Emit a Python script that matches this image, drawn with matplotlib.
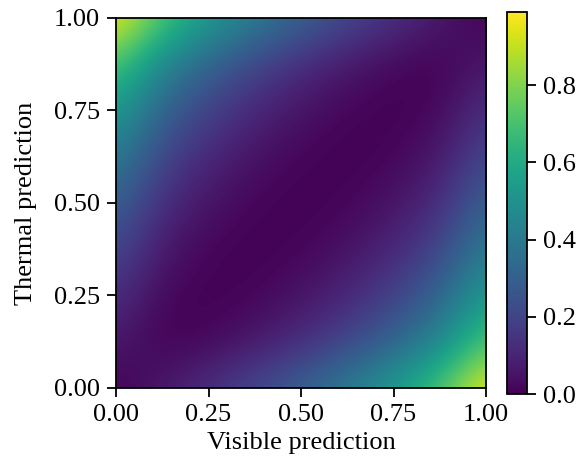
import matplotlib
matplotlib.use("Agg")
import matplotlib.pyplot as plt
import numpy as np

# prediction grid (both axes) and the divergence
pred = [0.0, 0.125, 0.25, 0.375, 0.5, 0.625, 0.75, 0.875, 1.0]
# rows: thermal prediction (bottom -> top), cols: visible prediction (left -> right)
row0 = [0.0, 0.066, 0.138, 0.219, 0.311, 0.419, 0.549, 0.717, 0.99]
row1 = [0.066, 0.0, 0.019, 0.062, 0.124, 0.205, 0.311, 0.456, 0.717]
row2 = [0.138, 0.019, 0.0, 0.013, 0.049, 0.106, 0.189, 0.311, 0.549]
row3 = [0.219, 0.062, 0.013, 0.0, 0.012, 0.046, 0.106, 0.205, 0.419]
row4 = [0.311, 0.124, 0.049, 0.012, 0.0, 0.012, 0.049, 0.124, 0.311]
row5 = [0.419, 0.205, 0.106, 0.046, 0.012, 0.0, 0.013, 0.062, 0.219]
row6 = [0.549, 0.311, 0.189, 0.106, 0.049, 0.013, 0.0, 0.019, 0.138]
row7 = [0.717, 0.456, 0.311, 0.205, 0.124, 0.062, 0.019, 0.0, 0.066]
row8 = [0.99, 0.717, 0.549, 0.419, 0.311, 0.219, 0.138, 0.066, 0.0]
grid = np.array([row0, row1, row2, row3, row4, row5, row6, row7, row8])

plt.rcParams['font.family'] = ['Liberation Serif', 'DejaVu Serif']
plt.rcParams['font.size'] = 19

fig = plt.figure(figsize=(5.85, 4.67), dpi=100)
ax = fig.add_axes([0.1983, 0.1692, 0.6325, 0.7923])
cax = fig.add_axes([0.8667, 0.1563, 0.0342, 0.818])

half = (pred[1] - pred[0]) / 2
im = ax.imshow(grid, origin='lower', cmap='viridis', vmin=0, vmax=0.99,
               extent=[pred[0] - half, pred[-1] + half, pred[0] - half, pred[-1] + half],
               interpolation='bicubic', interpolation_stage='data', aspect='auto')
ax.set_xlim(0, 1)
ax.set_ylim(0, 1)
ax.set_xticks([0, 0.25, 0.5, 0.75, 1.0])
ax.set_yticks([0, 0.25, 0.5, 0.75, 1.0])
ax.xaxis.set_major_formatter(matplotlib.ticker.FormatStrFormatter('%.2f'))
ax.yaxis.set_major_formatter(matplotlib.ticker.FormatStrFormatter('%.2f'))
ax.tick_params(length=6.5, width=1.3, labelsize=19, pad=5)
for s in ax.spines.values():
    s.set_linewidth(1.3)
ax.set_xlabel("Visible prediction", fontsize=19, labelpad=4)
ax.set_ylabel("Thermal prediction", fontsize=19, labelpad=12)

cb = fig.colorbar(im, cax=cax)
cb.set_ticks([0.0, 0.2, 0.4, 0.6, 0.8])
cb.ax.tick_params(length=6.5, width=1.3, labelsize=19, pad=5)
cb.outline.set_linewidth(1.3)

fig.savefig("out.png", dpi=100)
